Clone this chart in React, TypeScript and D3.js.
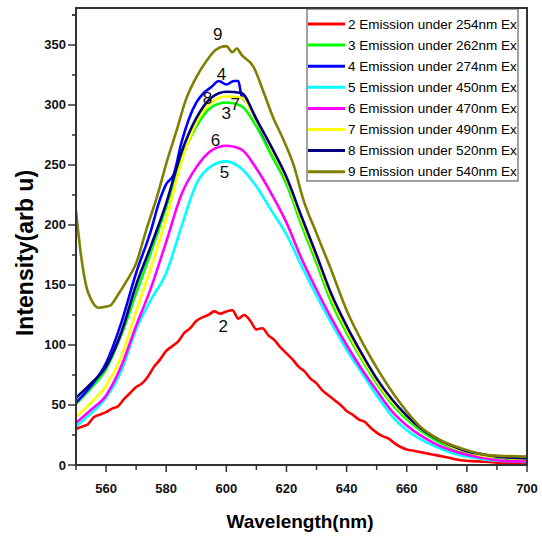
import React from "react";
import * as d3 from "d3";

// ---- data ----
const labels = [
  "2 Emission under 254nm Ex",
  "3 Emission under 262nm Ex",
  "4 Emission under 274nm Ex",
  "5 Emission under 450nm Ex",
  "6 Emission under 470nm Ex",
  "7 Emission under 490nm Ex",
  "8 Emission under 520nm Ex",
  "9 Emission under 540nm Ex",
];
const curveTags = ["2", "3", "4", "5", "6", "7", "8", "9"];

const wl5 = [550, 555, 560, 565, 570, 575, 580, 585, 590, 595, 600, 605, 610, 615, 620, 625, 630, 635, 640, 645, 650, 655, 660, 665, 670, 675, 680, 685, 690, 695, 700];

const wlRed = [550, 552, 554, 556, 558, 560, 562, 564, 566, 568, 570, 572, 574, 576, 578, 580, 582, 584, 586, 588, 590, 592, 594, 596, 598, 600, 602, 604, 606, 608, 610, 612, 614, 616, 618, 620, 622, 624, 626, 628, 630, 632, 634, 636, 638, 640, 642, 644, 646, 648, 650, 652, 654, 656, 658, 660, 662, 664, 666, 668, 670, 674, 678, 684, 690, 695, 700];
const intRed = [30, 32, 34, 40, 42, 44, 47, 49, 55, 60, 65, 68, 74, 82, 88, 95, 99, 103, 110, 114, 120, 123, 125, 128, 126, 128, 129, 122, 125, 120, 113, 114, 108, 104, 98, 93, 88, 82, 78, 72, 68, 62, 58, 54, 50, 45, 42, 38, 36, 31, 27, 24, 22, 18, 15, 13, 12, 11, 10, 9, 8, 6, 4, 3, 2, 1.5, 1.5];

const intGreen = [51, 64, 80, 108, 143, 178, 215, 255, 282, 298, 302, 299, 282, 258, 234, 200, 168, 135, 110, 88, 68, 51, 38, 28, 20, 14, 10, 8, 6, 5, 5];

const wlBlue = [550, 555, 560, 565, 570, 575, 577.5, 580, 582.5, 585, 590, 592.5, 595, 597.5, 600, 602.5, 604, 605, 607.5, 610, 612.5, 615, 620, 625, 630, 635, 640, 645, 650, 655, 660, 665, 670, 675, 680, 685, 690, 695, 700];
const intBlue = [52, 66, 85, 118, 160, 196, 218, 234, 242, 268, 302, 310, 315, 320, 317, 320, 320, 308, 300, 288, 274, 263, 238, 205, 172, 140, 114, 91, 71, 54, 41, 30, 22, 15, 11, 8.5, 6.5, 5.5, 5];

const intCyan = [32, 43, 56, 78, 113, 138, 160, 198, 234, 249, 253, 247, 232, 212, 192, 166, 141, 118, 96, 77, 58, 41, 29, 21, 15, 10, 7, 5, 3.5, 3, 2.5];

const intMagenta = [35, 46, 58, 82, 116, 148, 186, 225, 248, 262, 266, 263, 247, 226, 202, 172, 146, 122, 100, 80, 62, 45, 33, 24, 17, 12, 8.5, 6, 4, 3, 3];

const intYellow = [40, 52, 66, 90, 128, 165, 205, 252, 285, 302, 307, 306, 287, 263, 238, 204, 172, 139, 113, 90, 70, 53, 40, 30, 22, 15, 11, 8, 6.5, 5.5, 5];

const intNavy = [56, 68, 82, 110, 150, 183, 218, 260, 289, 306, 311, 310, 288, 265, 240, 207, 175, 142, 116, 93, 72, 55, 41, 30, 22, 16, 11.5, 9, 7, 6, 5.5];

const wlOlive = [550, 551.5, 553.5, 555, 557.5, 560, 561.5, 563.5, 567, 570, 573.5, 577, 580, 583.5, 586.5, 590, 593.5, 596.5, 600, 602, 603.5, 605, 609, 612.5, 615.5, 619, 622.5, 625.5, 630, 634.5, 640, 645.5, 651, 658, 664.5, 671, 678, 688, 700];
const intOlive = [212, 178, 148, 138, 131, 132, 133, 140, 154, 168, 197, 224, 251, 279, 304, 323, 337, 346, 349, 344, 347, 342, 332, 310, 290, 271, 249, 222, 193, 165, 129, 101, 77, 51, 32, 21, 14, 8, 7];

const seriesWl = [wlRed, wl5, wlBlue, wl5, wl5, wl5, wl5, wlOlive];
const seriesInt = [intRed, intGreen, intBlue, intCyan, intMagenta, intYellow, intNavy, intOlive];

const tagWl = [599, 600, 598.4, 599.4, 596.4, 603, 593.7, 597.1];
const tagInt = [115, 293, 325, 244, 270, 300, 305, 359];

const xTicks = [560, 580, 600, 620, 640, 660, 680, 700];
const yTicks = [0, 50, 100, 150, 200, 250, 300, 350];

// ---- styles ----
const colors = ["#ff0000", "#00ff00", "#0000ff", "#00ffff", "#ff00ff", "#ffff00", "#000080", "#808000"];
const W = 542;
const H = 538;
const L = 76;
const R = 527;
const T = 8;
const B = 465;
const FONT = "'Liberation Sans', Arial, sans-serif";

export default function App() {
  const x = d3.scaleLinear().domain([550, 700]).range([L, R]);
  const y = d3.scaleLinear().domain([0, 380.8]).range([B, T]);
  const line = d3
    .line<[number, number]>()
    .x((d) => x(d[0]))
    .y((d) => y(d[1]))
    .curve(d3.curveMonotoneX);

  const xMinor = d3.range(550, 701, 10);
  const yMinor = d3.range(0, 380, 25);

  return (
    <svg
      width={W}
      height={H}
      style={{ position: "absolute", left: 0, top: 0, background: "#fff" }}
      fontFamily={FONT}
    >
      <defs>
        <clipPath id="plotclip">
          <rect x={L} y={T} width={R - L} height={B - T} />
        </clipPath>
      </defs>
      <rect x={0} y={0} width={W} height={H} fill="#fff" />

      {/* curves */}
      <g clipPath="url(#plotclip)">
        {seriesInt.map((vals, i) => (
          <path
            key={i}
            d={line(vals.map((v, j) => [seriesWl[i][j], v]) as [number, number][]) || ""}
            fill="none"
            stroke={colors[i]}
            strokeWidth={2.6}
            strokeLinejoin="round"
          />
        ))}
      </g>

      {/* curve tags */}
      {curveTags.map((t, i) => (
        <text
          key={t}
          x={x(tagWl[i])}
          y={y(tagInt[i])}
          fontSize={17}
          textAnchor="middle"
          dominantBaseline="central"
          fill="#111"
        >
          {t}
        </text>
      ))}

      {/* frame */}
      <rect x={L} y={T} width={R - L} height={B - T} fill="none" stroke="#333" strokeWidth={2} />

      {/* x ticks */}
      {xMinor.map((v) => (
        <line key={"xm" + v} x1={x(v)} x2={x(v)} y1={B} y2={B + (v % 20 === 0 ? 7 : 5)} stroke="#333" strokeWidth={1.5} />
      ))}
      {xTicks.map((v) => (
        <text key={"xt" + v} x={x(v)} y={493} fontSize={13} fontWeight="bold" textAnchor="middle" fill="#111">
          {v}
        </text>
      ))}

      {/* y ticks */}
      {yMinor.concat([375]).map((v) => (
        <line key={"ym" + v} x1={L - (v % 50 === 0 ? 8 : 4)} x2={L} y1={y(v)} y2={y(v)} stroke="#333" strokeWidth={1.5} />
      ))}
      {yTicks.map((v) => (
        <text key={"yt" + v} x={66} y={y(v)} fontSize={13} fontWeight="bold" textAnchor="end" dominantBaseline="central" fill="#111">
          {v}
        </text>
      ))}

      {/* axis titles */}
      <text x={300} y={528} fontSize={19} fontWeight="bold" textAnchor="middle" fill="#000">
        Wavelength(nm)
      </text>
      <text
        transform="translate(25,253) rotate(-90)"
        fontSize={23}
        fontWeight="bold"
        textAnchor="middle"
        dominantBaseline="central"
        fill="#000"
      >
        Intensity(arb u)
      </text>

      {/* legend */}
      <g>
        <rect x={307} y={9} width={211} height={172} fill="#fff" stroke="#444" strokeWidth={1} />
        {labels.map((lab, i) => {
          const ly = 24 + i * 21.1;
          return (
            <g key={lab}>
              <line x1={308} x2={345} y1={ly} y2={ly} stroke={colors[i]} strokeWidth={3} />
              <text x={348} y={ly} fontSize={13.5} dominantBaseline="central" fill="#000">
                {lab}
              </text>
            </g>
          );
        })}
      </g>
    </svg>
  );
}
